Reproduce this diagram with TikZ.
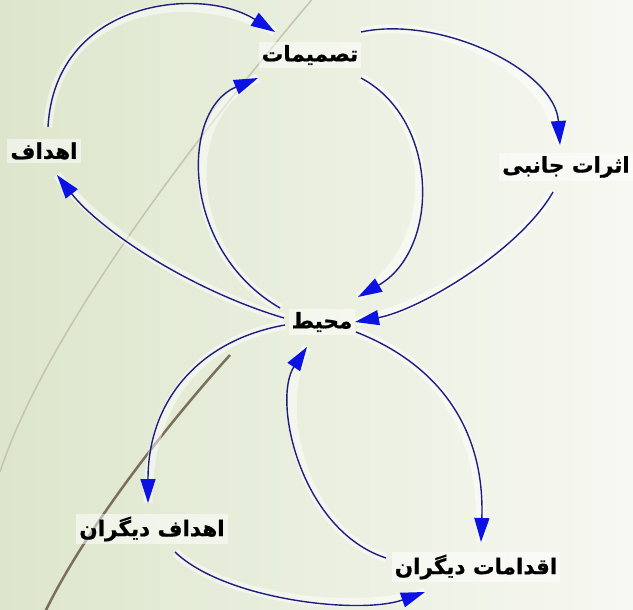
\documentclass[tikz,border=0pt]{standalone}
\usepackage{fontspec}
\usetikzlibrary{arrows.meta}
\TeXXeTstate=1
\newfontfamily\farsi[Script=Arabic, BoldFeatures={FakeBold=0.8}]{DejaVu Sans}
\definecolor{bgleft}{RGB}{221,230,204}
\definecolor{bgright}{RGB}{247,248,242}
\definecolor{linknavy}{RGB}{30,30,128}
\definecolor{tipblue}{RGB}{12,18,228}
\definecolor{decorgrey}{RGB}{196,196,176}
\definecolor{decorbrown}{RGB}{122,112,92}
\tikzset{
  concept/.style={font=\farsi\bfseries\fontsize{21.5}{24}\selectfont, text=black,
    fill=white, fill opacity=0.5, text opacity=1, inner sep=3pt, yshift=-2},
  link/.style={draw=linknavy, line width=1.4pt,
    -{Triangle[length=24pt,width=15pt,color=tipblue]},
    preaction={draw=white, line width=9pt, draw opacity=0.5, -}},
}
\begin{document}
\begin{tikzpicture}[x=1pt,y=-1pt]
\useasboundingbox (0,0) rectangle (633,610);
% slide background and its decorative strokes
\fill[left color=bgleft, right color=bgright] (0,0) rectangle (633,610);
\draw[decorgrey, line width=1.5pt] (314,-3) .. controls (160,180) and (40,350) .. (0,472);
\draw[decorbrown, line width=2.5pt] (230,355) .. controls (180,410) and (90,520) .. (45,612);

% concepts of the loop diagram
\node[concept] (dec)    at (310,53)  {\beginR تصمیمات\endR};
\node[concept] (goals)  at (44,149)  {\beginR اهداف\endR};
\node[concept] (side)   at (566,165) {\beginR اثرات جانبی\endR};
\node[concept] (env)    at (322,320) {\beginR محیط\endR};
\node[concept] (ogoals) at (152,527) {\beginR اهداف دیگران\endR};
\node[concept] (oact)   at (476,565) {\beginR اقدامات دیگران\endR};

% causal links
\draw[link] ([shift={(4,-24)}]goals.center) .. controls +(7,-127) and +(-75,-47) .. ([shift={(-35,-23)}]dec.center);
\draw[link] ([shift={(51,-23)}]dec.center) .. controls +(79,-17) and +(-5,-75) .. ([shift={(-6,-22)}]side.center);
\draw[link] ([shift={(-13,25)}]side.center) .. controls +(-33,58) and +(65,-12) .. ([shift={(33,0)}]env.center);
\draw[link] ([shift={(51,23)}]dec.center) .. controls +(79,42) and +(82,-47) .. ([shift={(36,-25)}]env.center);
\draw[link] ([shift={(-42,-14)}]env.center) .. controls +(-100,-58) and +(-78,32) .. ([shift={(-52,23)}]dec.center);
\draw[link] ([shift={(-38,-4)}]env.center) .. controls +(-94,-28) and +(43,55) .. ([shift={(13,24)}]goals.center);
\draw[link] ([shift={(-37,3)}]env.center) .. controls +(-85,15) and +(0,-103) .. ([shift={(-4,-26)}]ogoals.center);
\draw[link] ([shift={(34,10)}]env.center) .. controls +(84,33) and +(4,-112) .. ([shift={(5,-25)}]oact.center);
\draw[link] ([shift={(-90,-9)}]oact.center) .. controls +(-86,-28) and +(-35,53) .. ([shift={(-15,25)}]env.center);
\draw[link] ([shift={(23,23)}]ogoals.center) .. controls +(50,48) and +(-65,23) .. ([shift={(-51,25)}]oact.center);
\end{tikzpicture}
\end{document}
